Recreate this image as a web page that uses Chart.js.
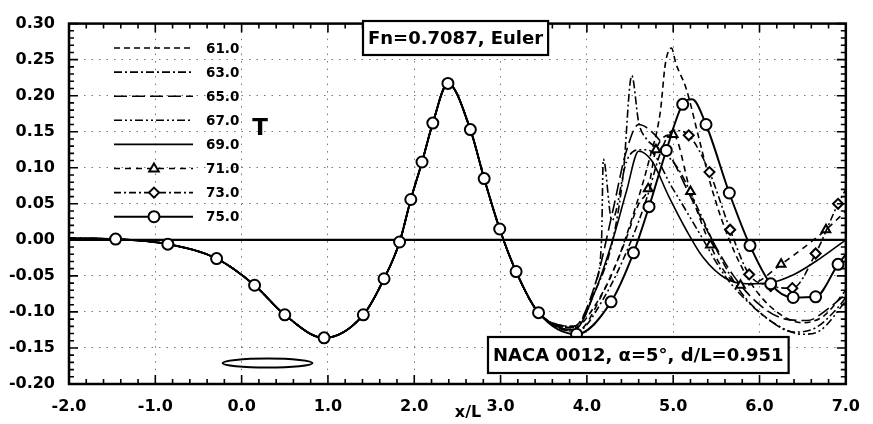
<!DOCTYPE html>
<html><head><meta charset="utf-8">
<script src="https://cdn.jsdelivr.net/npm/chart.js@4"></script>
<style>html,body{margin:0;padding:0;background:#fff}</style>
</head><body>
<canvas id="c" width="873" height="424"></canvas>
<script>
// ---- data ----
const seriesLabels = ['61.0','63.0','65.0','67.0','69.0','71.0','73.0','75.0'];
const xTicks = [-2,-1,0,1,2,3,4,5,6,7];
const yTicks = [-0.20,-0.15,-0.10,-0.05,0.00,0.05,0.10,0.15,0.20,0.25,0.30];

// common part of all curves (x/L, T)
const baseX = [-2.0,-1.46,-0.855,-0.29,0.15,0.50,0.955,1.41,1.65,1.83,1.96,2.09,2.215,2.39,2.65,2.81,2.99,3.18,3.44];
const baseT = [0.002,0.001,-0.006,-0.026,-0.063,-0.104,-0.136,-0.104,-0.054,-0.003,0.056,0.108,0.162,0.217,0.153,0.085,0.015,-0.044,-0.101];

const x61 = [3.85,4.1,4.35,4.55,4.72,4.85,4.91,4.98,5.03,5.15,5.3,5.45,5.65,5.9,6.2,6.5,6.75,7.0];
const t61 = [-0.122,-0.09,-0.03,0.04,0.11,0.177,0.245,0.266,0.245,0.21,0.14,0.07,0.0,-0.06,-0.10,-0.115,-0.105,-0.07];

const x63 = [3.85,4.1,4.3,4.42,4.52,4.6,4.69,4.85,5.05,5.3,5.55,5.8,6.1,6.4,6.65,6.9,7.0];
const t63 = [-0.12,-0.07,0.0,0.09,0.228,0.163,0.14,0.125,0.1,0.04,-0.025,-0.075,-0.11,-0.128,-0.122,-0.095,-0.08];

const x65 = [3.85,4.1,4.3,4.45,4.6,4.75,4.95,5.2,5.45,5.7,6.0,6.3,6.55,6.8,7.0];
const t65 = [-0.12,-0.06,0.04,0.12,0.16,0.15,0.12,0.06,0.0,-0.05,-0.09,-0.11,-0.112,-0.095,-0.075];

const x67 = [3.85,4.0,4.1,4.17,4.19,4.29,4.46,4.6,4.7,5.0,5.3,5.6,5.9,6.2,6.5,6.7,7.0];
const t67 = [-0.122,-0.10,-0.06,0.0,0.112,0.027,0.109,0.125,0.125,0.07,0.01,-0.05,-0.09,-0.118,-0.131,-0.126,-0.085];

const x69 = [3.85,4.1,4.3,4.46,4.6,4.75,4.95,5.15,5.35,5.6,5.85,6.1,6.4,6.7,7.0];
const t69 = [-0.125,-0.07,0.0,0.068,0.123,0.11,0.06,0.014,-0.025,-0.053,-0.061,-0.06,-0.048,-0.026,0.0];

const x71 = [3.88,4.2,4.45,4.6,4.71,4.80,5.0,5.2,5.43,5.6,5.78,5.95,6.25,6.5,6.77,7.0];
const t71 = [-0.127,-0.07,0.0,0.05,0.071,0.125,0.146,0.067,-0.007,-0.045,-0.063,-0.06,-0.034,-0.012,0.014,0.04];
const m71 = [4.71,4.80,5.0,5.2,5.43,5.78,6.25,6.77];

const x73 = [3.88,4.2,4.5,4.7,4.85,5.0,5.18,5.42,5.66,5.88,6.13,6.38,6.65,6.91,7.0];
const t73 = [-0.127,-0.08,-0.005,0.06,0.12,0.152,0.145,0.094,0.014,-0.048,-0.064,-0.067,-0.019,0.05,0.07];
const m73 = [5.18,5.42,5.66,5.88,6.13,6.38,6.65,6.91];

const x75 = [3.88,4.28,4.54,4.72,4.92,5.11,5.22,5.38,5.65,5.89,6.13,6.39,6.65,6.91,7.0];
const t75 = [-0.131,-0.086,-0.018,0.046,0.124,0.188,0.195,0.16,0.065,-0.008,-0.061,-0.08,-0.079,-0.034,-0.02];
const m75 = [-1.46,-0.855,-0.29,0.15,0.50,0.955,1.41,1.65,1.83,1.96,2.09,2.215,2.39,2.65,2.81,2.99,3.18,3.44,3.88,4.28,4.54,4.72,4.92,5.11,5.38,5.65,5.89,6.13,6.39,6.65,6.91];

const tails = [[x61,t61,[]],[x63,t63,[]],[x65,t65,[]],[x67,t67,[]],[x69,t69,[]],[x71,t71,m71],[x73,t73,m73],[x75,t75,m75]];
const dashes = [[6,4],[8,3,2,3],[13,5],[8,3,2,3,2,3],[],[6,5],[7,3,2,3],[]];
const styles = ['circle','circle','circle','circle','circle','triangle','rectRot','circle'];
const radii = [0,0,0,0,0,5,5,5.5];

const FONT = '"DejaVu Sans", Verdana, sans-serif';

const datasets = seriesLabels.map((lab,i)=>{
  const [xs,ts,ms] = tails[i];
  const X = baseX.concat(xs), T = baseT.concat(ts);
  return {
    label: lab,
    data: X.map((x,k)=>({x:x,y:T[k]})),
    borderColor:'#000', borderWidth: i===7?2:1.6, borderDash: dashes[i],
    pointStyle: styles[i],
    pointRadius: c => (c.raw && ms.includes(c.raw.x)) ? radii[i] : 0,
    pointBorderWidth: 2, pointBorderColor:'#000', pointBackgroundColor:'#fff',
    pointHoverRadius:0,
    cubicInterpolationMode:'monotone', fill:false, order: 8-i
  };
});

const L = {left:69,right:855,top:18,bottom:384};

const framePlugin = {
  id:'frame',
  beforeDatasetsDraw(chart){
    const {ctx, scales:{x,y}} = chart;
    ctx.save();
    ctx.strokeStyle='#000'; ctx.lineWidth=2.2; ctx.setLineDash([]);
    const y0=y.getPixelForValue(0);
    ctx.beginPath(); ctx.moveTo(x.left,y0); ctx.lineTo(x.right,y0); ctx.stroke();
    ctx.restore();
  },
  afterDraw(chart){
    const {ctx, scales:{x,y}} = chart;
    const a = chart.chartArea;
    ctx.save();
    ctx.strokeStyle='#000'; ctx.setLineDash([]);
    ctx.lineWidth=2.5;
    ctx.strokeRect(a.left,a.top,a.right-a.left,a.bottom-a.top);
    ctx.lineWidth=1.6;
    ctx.beginPath();
    for(let v=-2; v<=7.0001; v+=0.2){
      const p=x.getPixelForValue(v);
      const major=Math.abs(v-Math.round(v))<1e-6;
      const len=major?9:5;
      ctx.moveTo(p,a.bottom); ctx.lineTo(p,a.bottom-len);
      ctx.moveTo(p,a.top); ctx.lineTo(p,a.top+len);
    }
    for(let v=-0.2; v<=0.3001; v+=0.01){
      const p=y.getPixelForValue(v);
      const major=Math.abs(v*20-Math.round(v*20))<1e-6;
      const len=major?9:5;
      ctx.moveTo(a.left,p); ctx.lineTo(a.left+len,p);
      ctx.moveTo(a.right,p); ctx.lineTo(a.right-len,p);
    }
    ctx.stroke();
    // airfoil outline
    ctx.lineWidth=2;
    ctx.beginPath();
    ctx.ellipse(x.getPixelForValue(0.3), y.getPixelForValue(-0.171), 45, 4.5, 0, 0, Math.PI*2);
    ctx.stroke();
    // text boxes
    ctx.font='bold 18px '+FONT;
    ctx.textBaseline='middle'; ctx.textAlign='left';
    const box=(txt,x0,y0,y1)=>{
      const w=ctx.measureText(txt).width;
      ctx.fillStyle='#fff'; ctx.fillRect(x0,y0,w+10,y1-y0);
      ctx.lineWidth=2.2; ctx.strokeRect(x0,y0,w+10,y1-y0);
      ctx.fillStyle='#000'; ctx.fillText(txt,x0+5,(y0+y1)/2+1);
    };
    box('Fn=0.7087, Euler',363,21,55);
    box('NACA 0012, \u03b1=5\u00b0, d/L=0.951',488,337,373);
    // axis title
    ctx.font='bold 16px '+FONT;
    ctx.textAlign='center';
    ctx.fillText('x/L',468,413);
    ctx.textAlign='left';
    // legend
    ctx.font='bold 13.5px '+FONT;
    chart.data.datasets.forEach((ds,i)=>{
      const yy=48+i*24.1;
      ctx.lineWidth=ds.borderWidth; ctx.setLineDash(ds.borderDash);
      ctx.beginPath(); ctx.moveTo(114,yy); ctx.lineTo(193,yy); ctx.stroke();
      ctx.setLineDash([]);
      if(radii[i]>0){
        ctx.lineWidth=2; ctx.fillStyle='#fff';
        const cx=154, r=radii[i];
        ctx.beginPath();
        if(styles[i]==='circle'){ctx.arc(cx,yy,r,0,Math.PI*2);}
        else if(styles[i]==='triangle'){ctx.moveTo(cx,yy-r);ctx.lineTo(cx+r*0.95,yy+r*0.6);ctx.lineTo(cx-r*0.95,yy+r*0.6);ctx.closePath();}
        else {ctx.moveTo(cx,yy-r);ctx.lineTo(cx+r,yy);ctx.lineTo(cx,yy+r);ctx.lineTo(cx-r,yy);ctx.closePath();}
        ctx.fill(); ctx.stroke();
      }
      ctx.fillStyle='#000';
      ctx.fillText(ds.label,206,yy+1);
    });
    ctx.font='bold 23px '+FONT;
    ctx.textAlign='center';
    ctx.fillText('T',260,129);
    ctx.restore();
  }
};

new Chart(document.getElementById('c'),{
  type:'line',
  data:{datasets},
  options:{
    responsive:false, animation:false, devicePixelRatio:1,
    layout:{padding:{top:L.top,right:873-L.right,left:0,bottom:0}},
    plugins:{legend:{display:false},tooltip:{enabled:false}},
    scales:{
      x:{type:'linear',min:-2,max:7,
        afterBuildTicks:s=>{s.ticks=xTicks.map(v=>({value:v}));},
        afterFit:s=>{s.height=424-L.bottom;},
        ticks:{callback:v=>v.toFixed(1),color:'#000',maxRotation:0,padding:13,
          font:{family:FONT,size:16,weight:'bold'}},
        grid:{color:'#777',lineWidth:1,drawTicks:false},
        border:{display:false,dash:[1.5,6]}
      },
      y:{type:'linear',min:-0.2,max:0.3,
        afterBuildTicks:s=>{s.ticks=yTicks.map(v=>({value:v}));},
        afterFit:s=>{s.width=L.left;},
        ticks:{callback:v=>v.toFixed(2),color:'#000',padding:14,
          font:{family:FONT,size:16,weight:'bold'}},
        grid:{color:'#777',lineWidth:1,drawTicks:false},
        border:{display:false,dash:[1.5,6]}
      }
    }
  },
  plugins:[framePlugin]
});
</script>
</body></html>
